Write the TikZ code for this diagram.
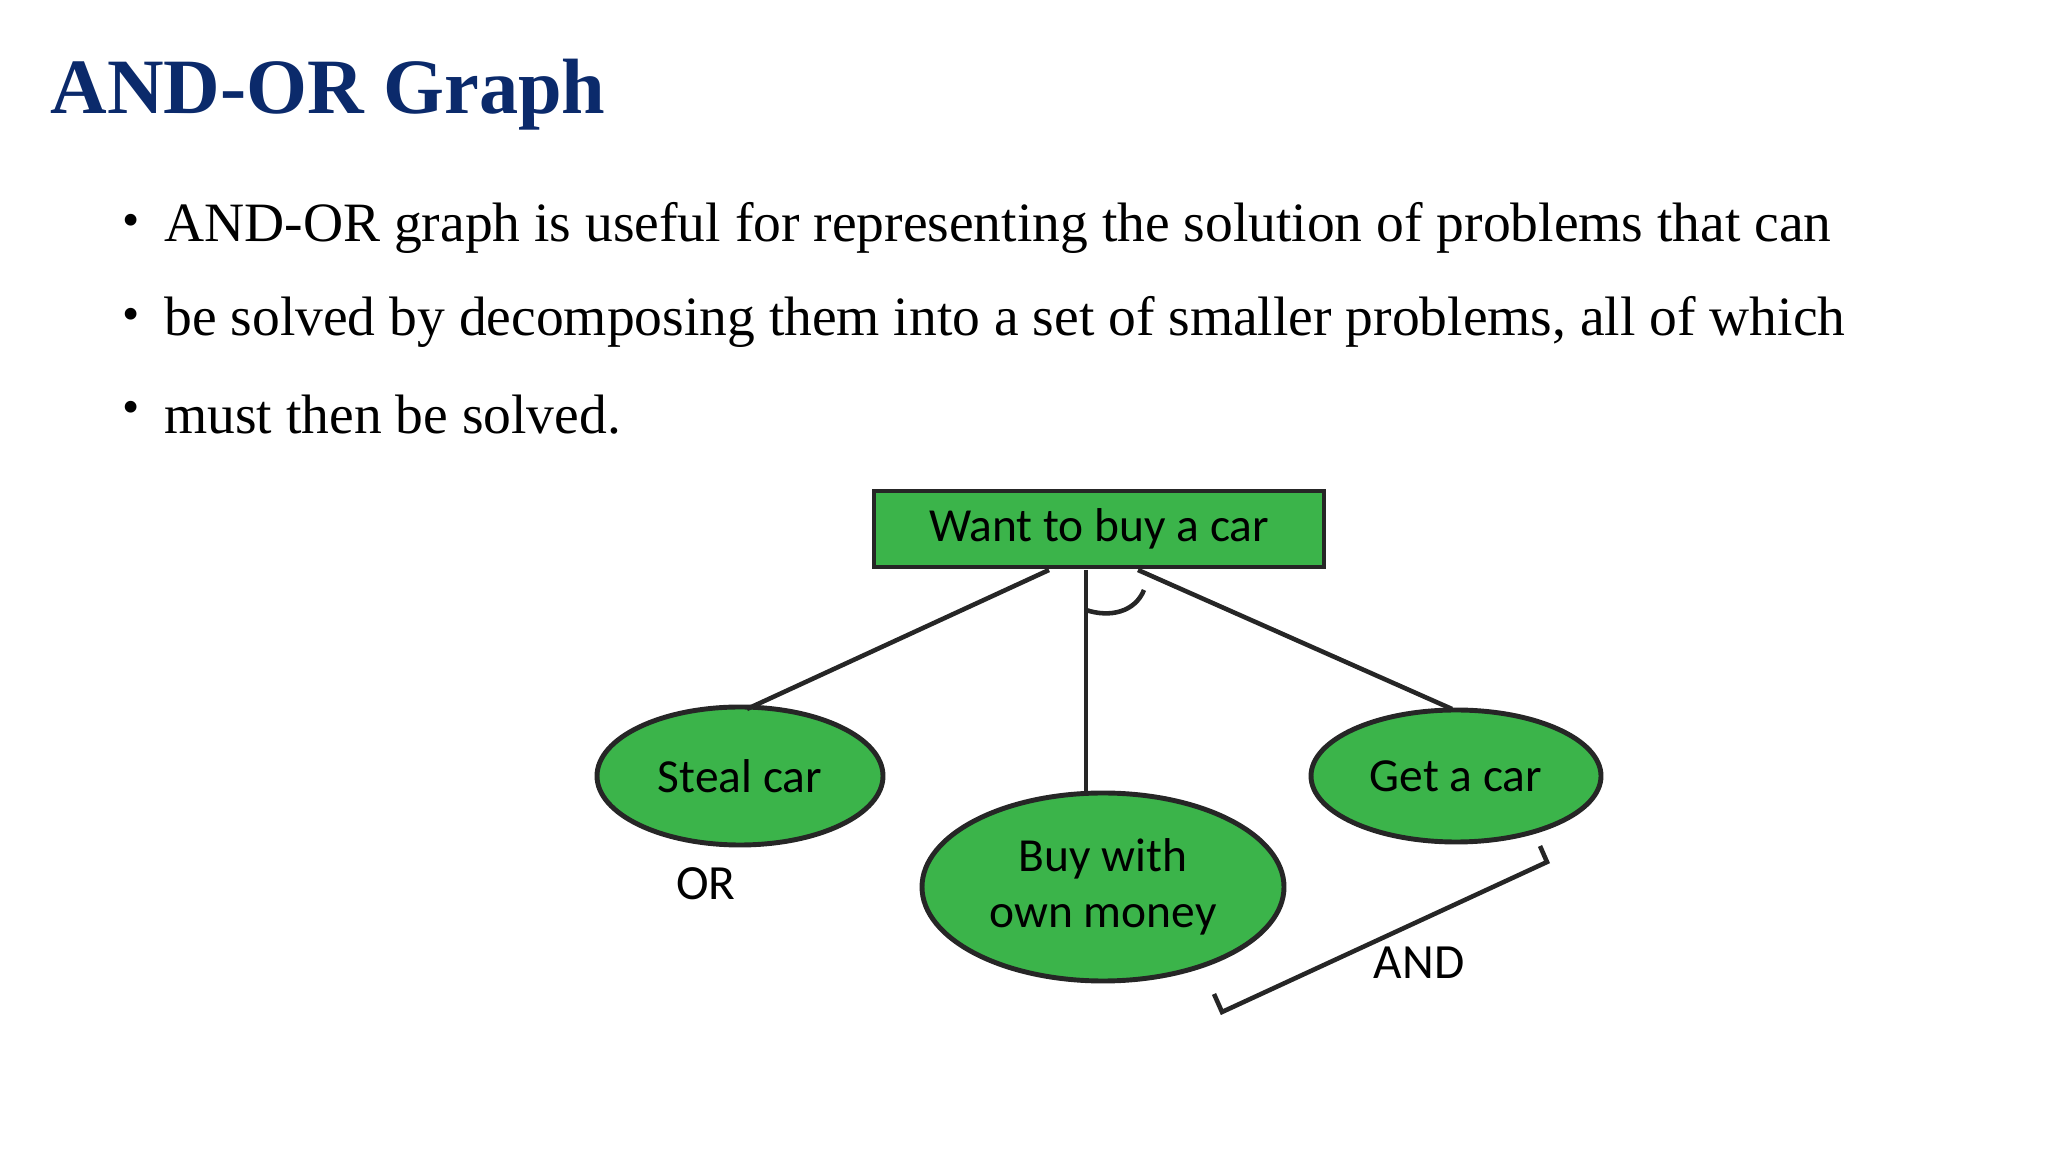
\documentclass[tikz,border=0pt]{standalone}
\usepackage{fontspec}
\setmainfont{Liberation Serif}
\newfontfamily\carl{Carlito}
\usetikzlibrary{shapes.geometric}
\definecolor{ttl}{HTML}{0B2A6B}
\definecolor{gr}{HTML}{3BB44A}
\begin{document}
\begin{tikzpicture}[x=0.1mm,y=-0.1mm,
  nd/.style={draw=black!85,line width=1.4pt,fill=gr,font=\carl\fontsize{13.5}{16}\selectfont,align=center},
  ell/.style={nd,ellipse,inner sep=0pt},
  ln/.style={line width=1.3pt,black!85},
  bt/.style={anchor=west,font=\fontsize{15.8}{19}\selectfont}]
\useasboundingbox (0,0) rectangle (2048,1152);
\node[anchor=west,text=ttl,font=\bfseries\fontsize{22.3}{26}\selectfont] (t) at (38,95) {AND-OR Graph};
\foreach \y/\s [count=\i] in {228/{AND-OR graph is useful for representing the solution of problems that can},
  322/{be solved by decomposing them into a set of smaller problems, all of which},
  415/{must then be solved.}}
  {\node[font=\fontsize{14}{16}\selectfont] (b\i) at (131,\y-3) {\textbullet};
   \node[bt] (l\i) at (152,\y) {\s};}
\node[nd,minimum width=45mm,minimum height=7.6mm] (top) at (1099,529) {Want to buy a car};
\node[ell,minimum width=28.6mm,minimum height=13.8mm] (s) at (740,776) {Steal car};
\node[ell,minimum width=36.2mm,minimum height=18.8mm] (b) at (1103,887) {Buy with\\own money};
\node[ell,minimum width=29mm,minimum height=13.2mm] (g) at (1456,776) {Get a car};
\coordinate (p1) at (1049,570); \coordinate (p2) at (1086,570); \coordinate (p3) at (1138,570);
\coordinate (q1) at (747,709); \coordinate (q2) at (1086,793); \coordinate (q3) at (1452,709);
\draw[ln] (p1)--(q1); \draw[ln] (p2)--(q2); \draw[ln] (p3)--(q3);
\draw[ln] (1086,610) .. controls (1110,618) and (1135,612) .. (1144,590);
\node[font=\carl\fontsize{14}{16}\selectfont] (or) at (706,884) {OR};
\node[font=\carl\fontsize{14}{16}\selectfont] (and) at (1419,963) {AND};
\coordinate (k1) at (1214,994); \coordinate (k2) at (1222,1012);
\coordinate (k3) at (1547,862); \coordinate (k4) at (1540,846);
\draw[ln] (k1)--(k2)--(k3)--(k4);
\end{tikzpicture}
\end{document}
